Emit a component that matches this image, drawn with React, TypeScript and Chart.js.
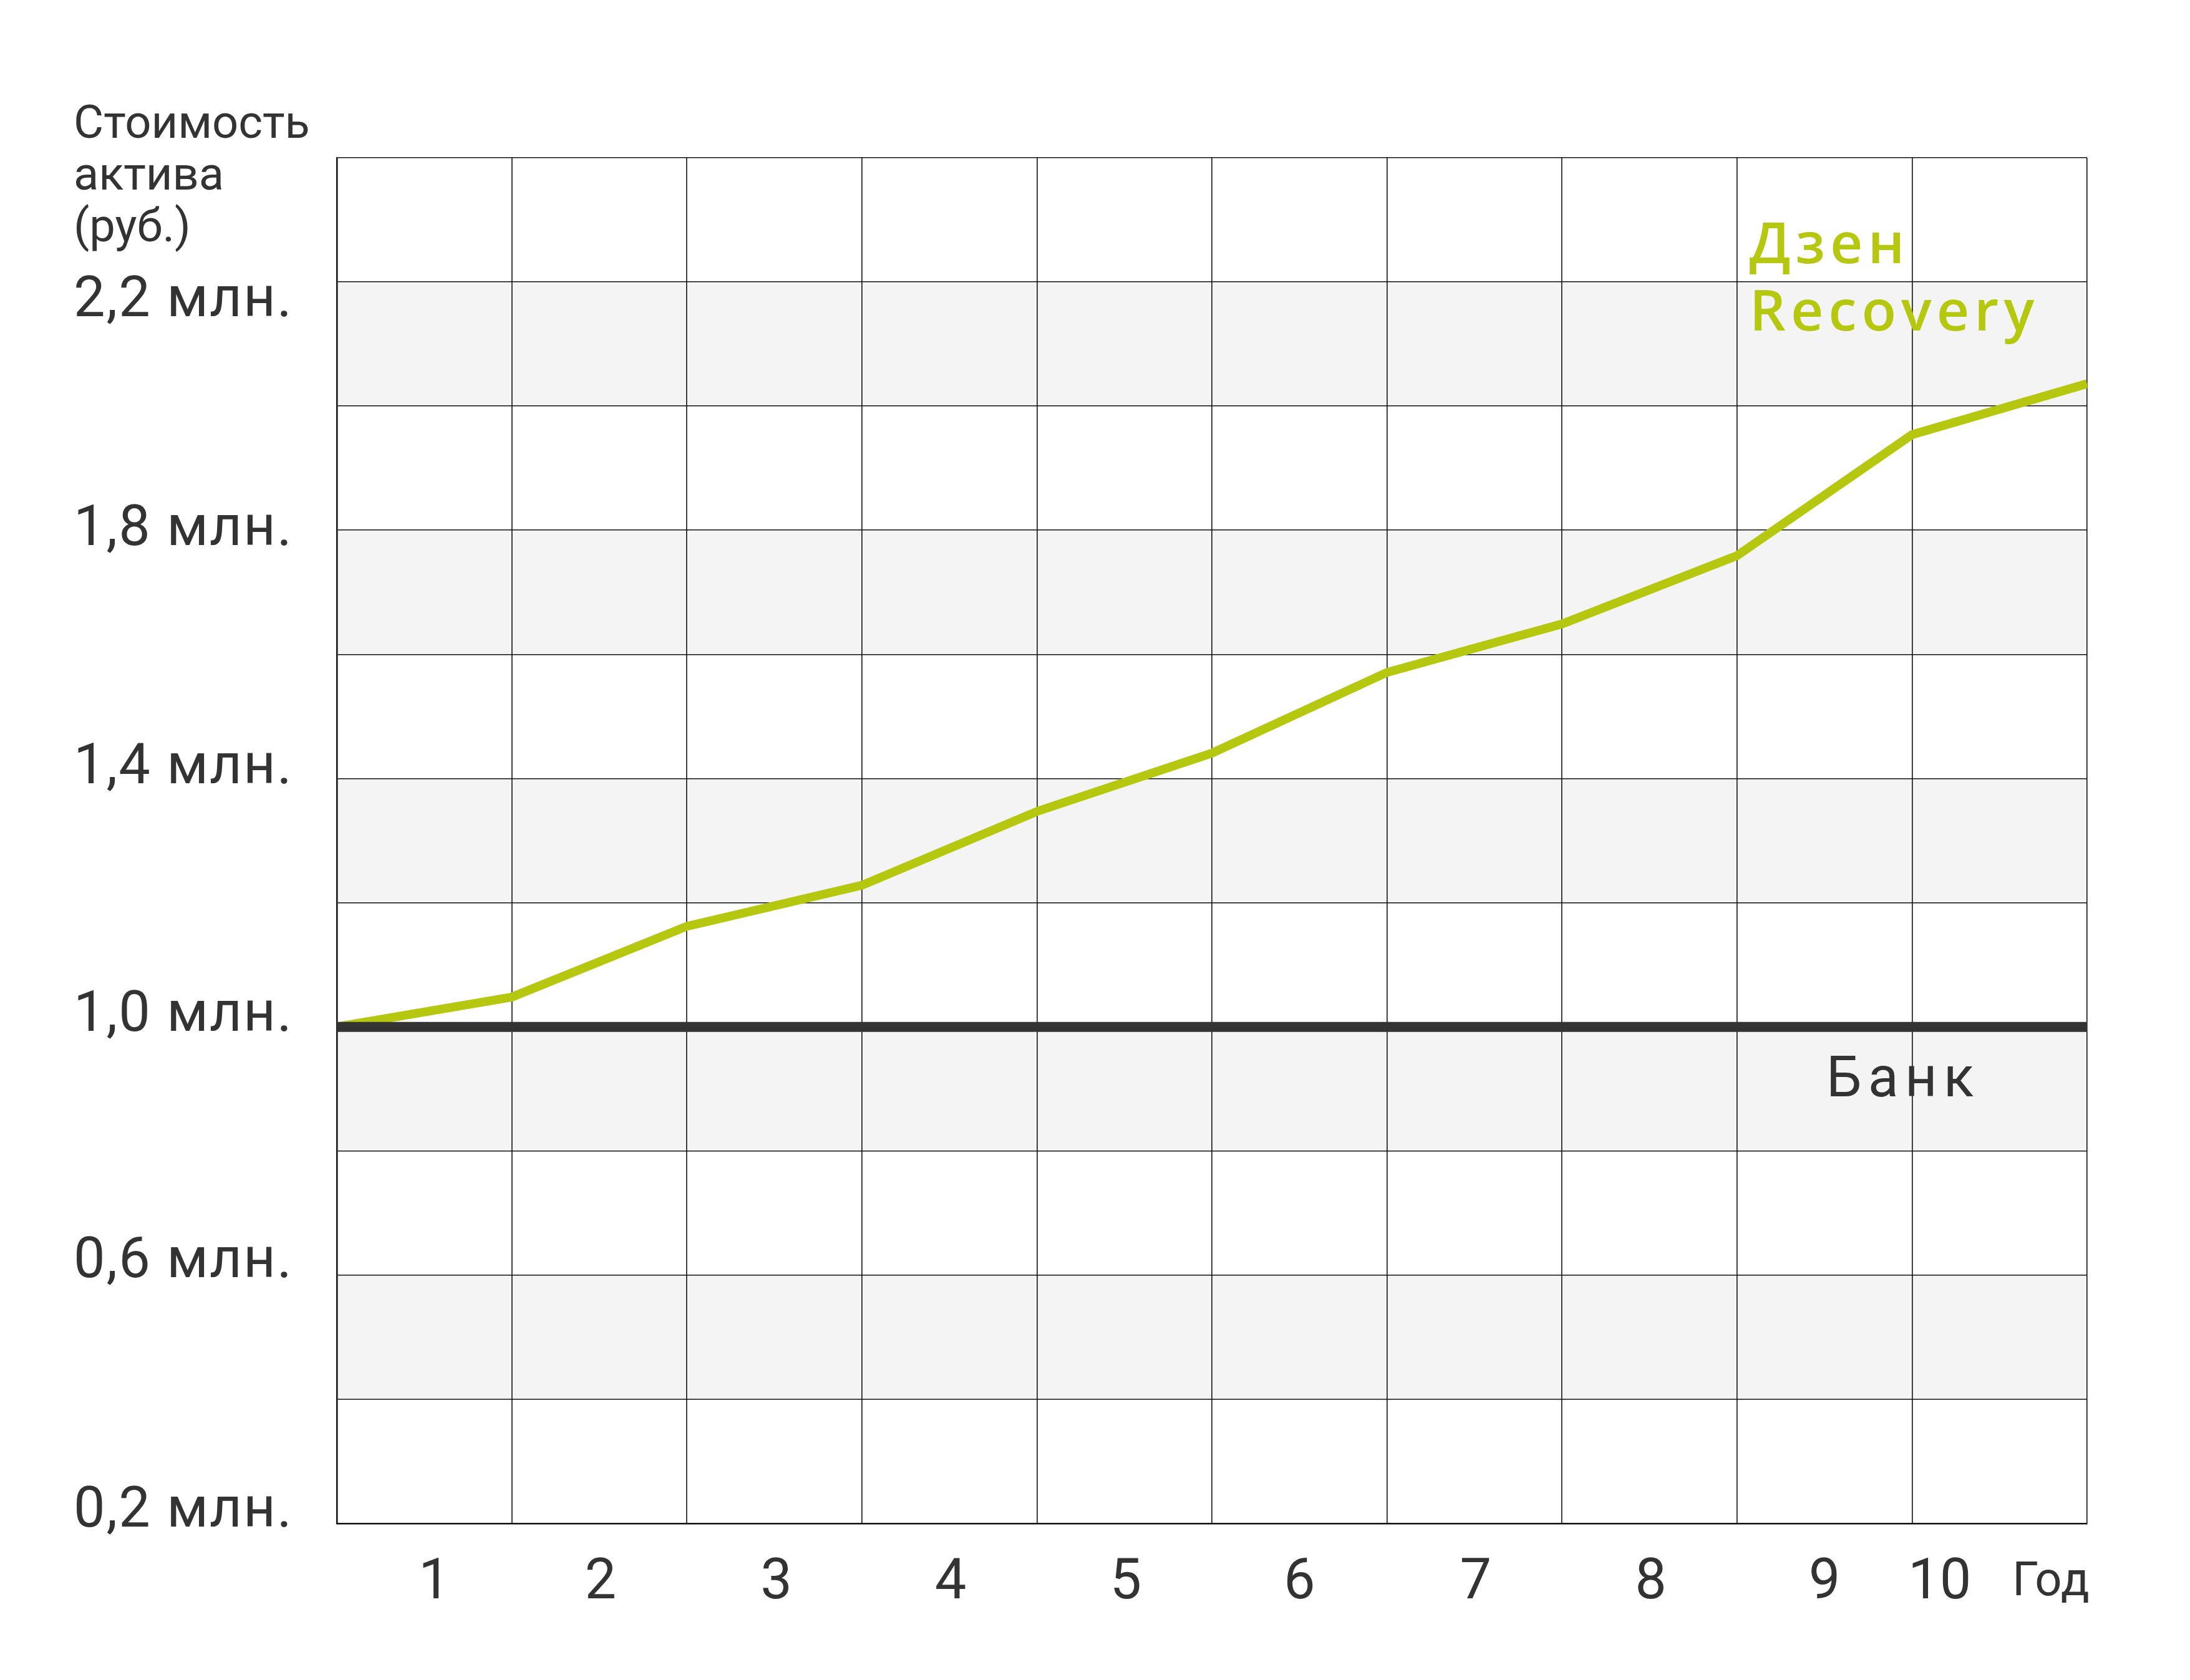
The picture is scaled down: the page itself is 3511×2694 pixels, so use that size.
import React, { useEffect, useRef } from 'react';
import { Chart, registerables } from 'chart.js';

Chart.register(...registerables);

// ---------- data ----------
const yearLabels = ['1', '2', '3', '4', '5', '6', '7', '8', '9', '10'];
const yearMarks = [0, 1, 2, 3, 4, 5, 6, 7, 8, 9, 10];
const dzenValues = [1.0, 1.048, 1.162, 1.228, 1.347, 1.441, 1.571, 1.649, 1.759, 1.954, 2.036];
const bankYears = [0, 10];
const bankValues = [1.0, 1.0];
const yTickValues = [2.2, 1.8, 1.4, 1.0, 0.6, 0.2];
const yTickLabels = ['2,2 млн.', '1,8 млн.', '1,4 млн.', '1,0 млн.', '0,6 млн.', '0,2 млн.'];
const shadedBands = [
  [2.0, 2.2],
  [1.6, 1.8],
  [1.2, 1.4],
  [0.8, 1.0],
  [0.4, 0.6],
];
const yAxisTitle = ['Стоимость', 'актива', '(руб.)'];
const xAxisTitle = 'Год';
const dzenName = ['Дзен', 'Recovery'];
const bankName = 'Банк';

// ---------- style ----------
const W = 3511;
const H = 2694;
const TEXT = '#333333';
const GREEN = '#b5c70e';
const GRID = '#111111';
const BAND = '#f4f4f4';
const Y_LABEL_BASELINE_SHIFT = [55, 24, 8, 6, 3, 5];
const X_LABEL_SHIFT = [16, 2, 3, 2, 2, 0, 2, 2, 0, -96];

const bandsPlugin = {
  id: 'bands',
  beforeDraw(chart: any) {
    const { ctx, chartArea, scales } = chart;
    const y = scales.y;
    ctx.save();
    ctx.fillStyle = BAND;
    shadedBands.forEach(([lo, hi]) => {
      const top = y.getPixelForValue(hi);
      const bottom = y.getPixelForValue(lo);
      ctx.fillRect(chartArea.left, top, chartArea.right - chartArea.left, bottom - top);
    });
    ctx.restore();
  },
};

const textPlugin = {
  id: 'texts',
  afterDraw(chart: any) {
    const { ctx, chartArea, scales } = chart;
    const x = scales.x;
    const y = scales.y;
    ctx.save();
    ctx.fillStyle = TEXT;
    ctx.textBaseline = 'alphabetic';

    // y-axis title
    ctx.font = '400 74px Roboto';
    ctx.textAlign = 'left';
    (ctx as any).letterSpacing = '0px';
    yAxisTitle.forEach((line, i) => ctx.fillText(line, 118, 221 + i * 83));

    // y tick labels
    ctx.font = '400 90px Roboto';
    (ctx as any).letterSpacing = '2px';
    yTickValues.forEach((v, i) => {
      ctx.fillText(yTickLabels[i], 118, y.getPixelForValue(v) + Y_LABEL_BASELINE_SHIFT[i]);
    });

    // x tick labels
    ctx.textAlign = 'center';
    (ctx as any).letterSpacing = '0px';
    ctx.font = '400 90px Roboto';
    const xBase = chartArea.bottom + 120;
    yearLabels.forEach((lab, i) => {
      ctx.fillText(lab, x.getPixelForValue(i + 0.5) + X_LABEL_SHIFT[i], xBase);
    });

    // x-axis title
    ctx.textAlign = 'left';
    ctx.font = '400 76px Roboto';
    (ctx as any).letterSpacing = '1px';
    ctx.fillText(xAxisTitle, chartArea.right - 120, xBase - 5);

    // bank label
    ctx.font = '400 90px Roboto';
    (ctx as any).letterSpacing = '10px';
    ctx.fillText(bankName, x.getPixelForValue(8.5) + 3, y.getPixelForValue(1.0) + 111);

    // Dzen Recovery label
    ctx.fillStyle = GREEN;
    ctx.font = '600 91px "Open Sans"';
    (ctx as any).letterSpacing = '8px';
    const lx = x.getPixelForValue(8) + 20;
    ctx.fillText(dzenName[0], lx, y.getPixelForValue(2.2) - 30);
    ctx.fillText(dzenName[1], lx, y.getPixelForValue(2.2) + 78);

    ctx.restore();
  },
};

export default function App() {
  const ref = useRef<HTMLCanvasElement | null>(null);

  useEffect(() => {
    if (!ref.current) return;
    const chart = new Chart(ref.current, {
      type: 'line',
      data: {
        datasets: [
          {
            label: bankName,
            data: bankYears.map((yr, i) => ({ x: yr, y: bankValues[i] })),
            borderColor: TEXT,
            borderWidth: 16,
            pointRadius: 0,
            borderCapStyle: 'butt',
            tension: 0,
            fill: false,
          },
          {
            label: dzenName.join(' '),
            data: yearMarks.map((yr, i) => ({ x: yr, y: dzenValues[i] })),
            borderColor: GREEN,
            borderWidth: 14,
            pointRadius: 0,
            borderCapStyle: 'butt',
            borderJoinStyle: 'miter',
            tension: 0,
            fill: false,
          },
        ],
      },
      options: {
        animation: false,
        responsive: false,
        devicePixelRatio: 1,
        layout: { padding: { left: 540, right: W - 3346, top: 253, bottom: H - 2443 } },
        plugins: { legend: { display: false }, title: { display: false }, tooltip: { enabled: false } },
        scales: {
          x: {
            type: 'linear',
            min: 0,
            max: 10,
            ticks: { display: false, stepSize: 1 },
            grid: { color: GRID, lineWidth: 1.6, drawTicks: false },
            border: { display: true, color: GRID, width: 2.5 },
          },
          y: {
            type: 'linear',
            min: 0.2,
            max: 2.4,
            ticks: { display: false, stepSize: 0.2 },
            grid: { color: GRID, lineWidth: 1.6, drawTicks: false },
            border: { display: true, color: GRID, width: 2.5 },
          },
        },
      },
      plugins: [bandsPlugin, textPlugin],
    } as any);
    return () => chart.destroy();
  }, []);

  return (
    <div style={{ position: 'absolute', left: 0, top: 0, width: W, height: H, background: '#ffffff' }}>
      <canvas ref={ref} width={W} height={H} style={{ width: W, height: H, display: 'block' }} />
    </div>
  );
}
